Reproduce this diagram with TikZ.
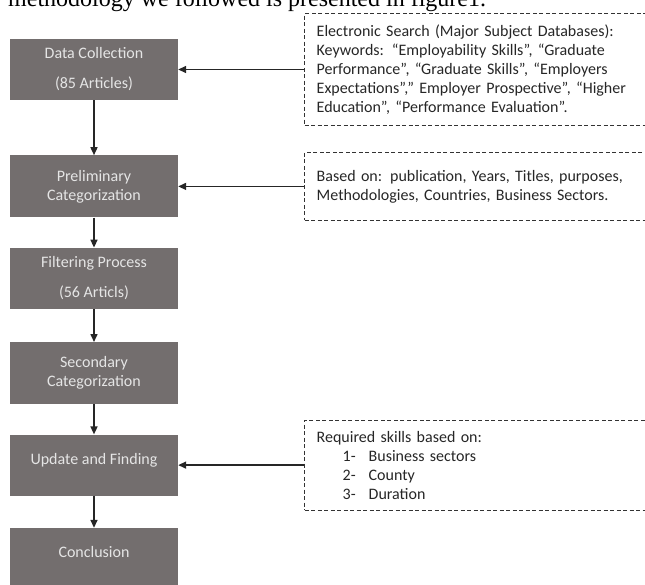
\documentclass[tikz,border=0pt]{standalone}
\usepackage{fontspec}
\setmainfont{Carlito}
\newfontfamily\leadfont{Liberation Serif}
\usepackage{xcolor}
\usepackage{tikz}
\usetikzlibrary{arrows.meta, positioning}
\definecolor{stagegray}{RGB}{115,110,110}

\begin{document}
\begin{tikzpicture}[
        node distance=30pt and 126pt,
        stage/.style={rectangle, fill=stagegray, text=white!90!black, minimum width=168pt, minimum height=61pt, inner sep=0pt, align=center, font=\fontsize{16}{19}\selectfont},
        oneline/.style={text depth=13pt},
        note/.style={rectangle, draw=black!80, line width=1pt, dash pattern=on 4pt off 2.5pt, text=black!85, minimum width=346pt, text width=322pt, inner xsep=12pt, align=left, font=\fontsize{16}{19}\selectfont},
        arrow/.style={-{Triangle[length=8pt, width=7pt]}, line width=1.5pt, draw=black!85},
    ]
        \useasboundingbox (0,0) rectangle (645pt,-584pt);
        \clip (0,0) rectangle (645pt,-584pt);

        % Text line above the figure
        \node[font=\leadfont\fontsize{24}{28}\selectfont, anchor=base west, inner sep=0pt] (lead) at (8pt,-6pt) {methodology we followed is presented in figure1.};

        % Left column
        \node[stage] (collect) at (94pt,-69.5pt) {Data Collection\\[11pt](85 Articles)};
        \node[stage, minimum height=62pt, below=55pt of collect] (prelim) {Preliminary\\Categorization};
        \node[stage, below=30pt of prelim] (filter) {Filtering Process\\[11pt](56 Articls)};
        \node[stage, minimum height=62pt, below=33pt of filter] (second) {Secondary\\Categorization};
        \node[stage, oneline, below=30pt of second] (update) {Update and Finding};
        \node[stage, oneline, below=32pt of update] (concl) {Conclusion};

        % Right column
        \node[note, minimum height=112pt, right=126pt of collect] (search) {Electronic Search (Major Subject Databases):\\
            Keywords: “Employability Skills”, “Graduate\\
            Performance”, “Graduate Skills”, “Employers\\
            Expectations”,” Employer Prospective”, “Higher\\
            Education”, “Performance Evaluation”.};
        \node[note, minimum height=68pt, right=126pt of prelim] (basis) {Based on: publication, Years, Titles, purposes,\\
            Methodologies, Countries, Business Sectors.};
        \node[note, minimum height=90pt, right=126pt of update] (skills) {Required skills based on:\\
            \hspace*{26pt}\makebox[26pt][l]{1-}Business sectors\\
            \hspace*{26pt}\makebox[26pt][l]{2-}County\\
            \hspace*{26pt}\makebox[26pt][l]{3-}Duration};

        % Arrows
        \draw[arrow] (collect) -- (prelim);
        \draw[arrow] (prelim) -- (filter);
        \draw[arrow] (filter) -- (second);
        \draw[arrow] (second) -- (update);
        \draw[arrow] (update) -- (concl);
        \draw[arrow] (search) -- (collect);
        \draw[arrow] (basis) -- (prelim);
        \draw[arrow] (skills) -- (update);
    \end{tikzpicture}
\end{document}
